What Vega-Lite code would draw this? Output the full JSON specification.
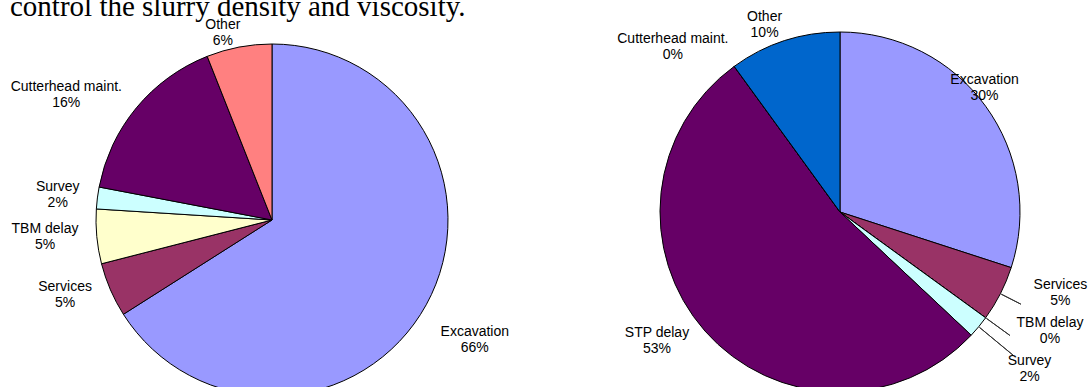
{
  "$schema": "https://vega.github.io/schema/vega-lite/v6.json",
  "background": "white",
  "padding": {"top": -8, "left": 0, "right": 0, "bottom": 0},
  "title": {
    "text": "control the slurry density and viscosity.",
    "anchor": "start",
    "font": "Liberation Serif",
    "fontSize": 29,
    "fontWeight": "normal",
    "color": "#000000",
    "offset": -12,
    "dx": 10
  },
  "config": {
    "view": {"stroke": null},
    "text": {"font": "Liberation Sans", "fontSize": 14, "lineHeight": 16, "color": "#000000"}
  },
  "datasets": {
    "shaftA": [
      {"idx": 1, "category": "Excavation", "value": 66},
      {"idx": 2, "category": "Services", "value": 5},
      {"idx": 3, "category": "TBM delay", "value": 5},
      {"idx": 4, "category": "Survey", "value": 2},
      {"idx": 5, "category": "Cutterhead maint.", "value": 16},
      {"idx": 6, "category": "Other", "value": 6}
    ],
    "shaftB": [
      {"idx": 1, "category": "Excavation", "value": 30},
      {"idx": 2, "category": "Services", "value": 5},
      {"idx": 3, "category": "TBM delay", "value": 0},
      {"idx": 4, "category": "Survey", "value": 2},
      {"idx": 5, "category": "STP delay", "value": 53},
      {"idx": 6, "category": "Cutterhead maint.", "value": 0},
      {"idx": 7, "category": "Other", "value": 10}
    ]
  },
  "spacing": 73,
  "resolve": {"scale": {"color": "independent", "theta": "independent"}},
  "hconcat": [
    {
      "width": 544,
      "height": 392,
      "data": {"name": "shaftA"},
      "transform": [
        {"window": [{"op": "sum", "field": "value", "as": "end"}], "sort": [{"field": "idx"}], "frame": [null, 0]},
        {"calculate": "datum.end - datum.value", "as": "start"},
        {"calculate": "datum.end - datum.value / 2", "as": "mid"},
        {"calculate": "datum.category + '\\n' + datum.value + '%'", "as": "label"}
      ],
      "layer": [
        {
          "mark": {"type": "arc", "radius": 176, "stroke": "#000000", "strokeWidth": 1},
          "encoding": {
            "theta": {"field": "start", "type": "quantitative", "stack": null, "scale": {"domain": [0, 100], "range": [0, 6.283185307179586]}},
            "theta2": {"field": "end"},
            "color": {
              "field": "category", "type": "nominal", "legend": null,
              "scale": {
                "domain": ["Excavation", "Services", "TBM delay", "Survey", "Cutterhead maint.", "Other"],
                "range": ["#9999FF", "#993366", "#FFFFCC", "#CCFFFF", "#660066", "#FF8080"]
              }
            }
          }
        },
        {
          "mark": {
            "type": "text",
            "lineBreak": "\n",
            "align": "center",
            "baseline": "middle",
            "radius": {"expr": "{'Excavation': 236, 'Services': 220, 'TBM delay': 228, 'Survey': 216, 'Cutterhead maint.': 241, 'Other': 193}[datum.category]"},
            "dx": {"expr": "{'Excavation': -4, 'Services': -5, 'TBM delay': 0, 'Survey': 0, 'Cutterhead maint.': -20, 'Other': -13}[datum.category]"},
            "dy": {"expr": "{'Excavation': -2, 'Services': -20, 'TBM delay': -12, 'Survey': -6, 'Cutterhead maint.': 21, 'Other': -5}[datum.category]"}
          },
          "encoding": {
            "theta": {"field": "mid", "type": "quantitative", "stack": null, "scale": {"domain": [0, 100], "range": [0, 6.283185307179586]}},
            "text": {"field": "label", "type": "nominal"}
          }
        }
      ]
    },
    {
      "width": 440,
      "height": 376,
      "data": {"name": "shaftB"},
      "transform": [
        {"window": [{"op": "sum", "field": "value", "as": "end"}], "sort": [{"field": "idx"}], "frame": [null, 0]},
        {"calculate": "datum.end - datum.value", "as": "start"},
        {"calculate": "datum.end - datum.value / 2", "as": "mid"},
        {"calculate": "datum.category + '\\n' + datum.value + '%'", "as": "label"}
      ],
      "layer": [
        {
          "mark": {"type": "arc", "radius": 180, "stroke": "#000000", "strokeWidth": 1},
          "encoding": {
            "theta": {"field": "start", "type": "quantitative", "stack": null, "scale": {"domain": [0, 100], "range": [0, 6.283185307179586]}},
            "theta2": {"field": "end"},
            "color": {
              "field": "category", "type": "nominal", "legend": null,
              "scale": {
                "domain": ["Excavation", "Services", "TBM delay", "Survey", "STP delay", "Cutterhead maint.", "Other"],
                "range": ["#9999FF", "#993366", "#FFFFCC", "#CCFFFF", "#660066", "#660066", "#0066CC"]
              }
            }
          }
        },
        {
          "transform": [{"filter": "indexof(['Services', 'TBM delay', 'Survey'], datum.category) >= 0"}],
          "mark": {
            "type": "arc",
            "radius2": 181,
            "radius": {"expr": "{'Services': 203, 'TBM delay': 210, 'Survey': 225}[datum.category]"},
            "fill": null,
            "stroke": "#333333",
            "strokeWidth": 1
          },
          "encoding": {
            "theta": {"field": "mid", "type": "quantitative", "stack": null, "scale": {"domain": [0, 100], "range": [0, 6.283185307179586]}},
            "theta2": {"field": "mid"}
          }
        },
        {
          "mark": {
            "type": "text",
            "lineBreak": "\n",
            "align": "center",
            "baseline": "middle",
            "radius": {"expr": "{'Excavation': 191, 'Services': 235, 'TBM delay': 241, 'Survey': 246, 'STP delay': 224, 'Cutterhead maint.': 235, 'Other': 202}[datum.category]"},
            "dx": {"expr": "{'Excavation': -10, 'Services': 11, 'TBM delay': 15, 'Survey': 0, 'STP delay': -15, 'Cutterhead maint.': -29, 'Other': -13}[datum.category]"},
            "dy": {"expr": "{'Excavation': -20, 'Services': -34, 'TBM delay': -31, 'Survey': -8, 'STP delay': -27, 'Cutterhead maint.': 17, 'Other': -3}[datum.category]"}
          },
          "encoding": {
            "theta": {"field": "mid", "type": "quantitative", "stack": null, "scale": {"domain": [0, 100], "range": [0, 6.283185307179586]}},
            "text": {"field": "label", "type": "nominal"}
          }
        }
      ]
    }
  ]
}
